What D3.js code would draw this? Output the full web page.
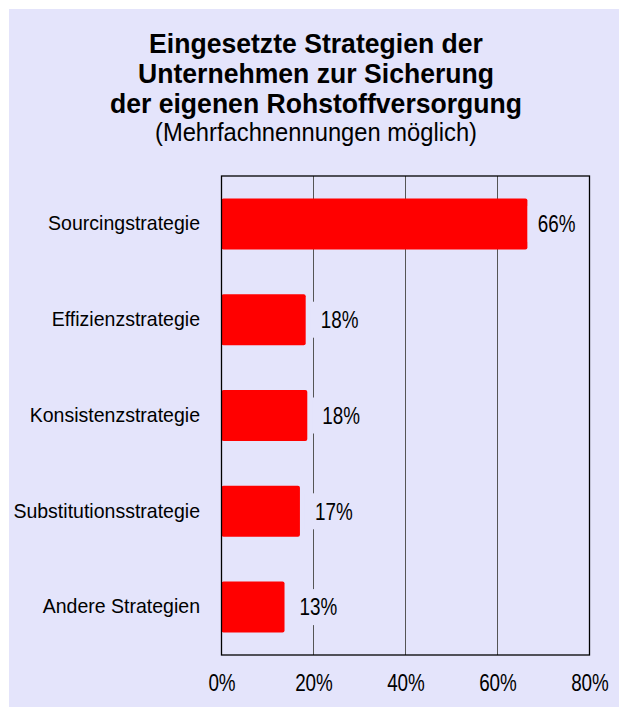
<!DOCTYPE html>
<html>
<head>
<meta charset="utf-8">
<script src="https://cdn.jsdelivr.net/npm/d3@7"></script>
<style>
  body { margin: 0; background: #fff; }
  text { font-family: "Liberation Sans", Arial, sans-serif; fill: #000; }
</style>
</head>
<body>
<svg id="chart"></svg>
<script>
"use strict";
const categories = ["Sourcingstrategie", "Effizienzstrategie", "Konsistenzstrategie",
    "Substitutionsstrategie", "Andere Strategien"];
const values = [66.5, 18.3, 18.65, 17.05, 13.7];
const valueLabels = ["66%", "18%", "18%", "17%", "13%"];
const ticks = [0, 20, 40, 60, 80];
const titleLines = ["Eingesetzte Strategien der", "Unternehmen zur Sicherung",
    "der eigenen Rohstoffversorgung"];
const subtitle = "(Mehrfachnennungen möglich)";

const W = 619, H = 707;
const margin = {top: 176, left: 221.5},
    width = 368, height = 479;
const bg = "#e4e4fb";

const svg = d3.select("#chart").attr("width", W).attr("height", H);
svg.append("rect").attr("x", 9).attr("y", 9)
    .attr("width", W - 9).attr("height", H - 9).attr("fill", bg);

// Title
titleLines.forEach((t, i) => {
    svg.append("text")
        .attr("text-anchor", "middle")
        .attr("transform", `translate(316,${53 + i * 30}) scale(0.95,1)`)
        .style("font-size", "28px").style("font-weight", "bold")
        .text(t);
});
svg.append("text")
    .attr("text-anchor", "middle")
    .attr("transform", "translate(316,141) scale(0.95,1)")
    .style("font-size", "25px")
    .text(subtitle);

const g = svg.append("g")
    .attr("transform", `translate(${margin.left},${margin.top})`);

const x = d3.scaleLinear().domain([0, 80]).range([0, width]);
const y = d3.scaleBand().domain(categories).range([0, height])
    .paddingInner(0.468).paddingOuter(0.234);

// gridlines
g.append("g")
    .selectAll("line")
    .data(ticks.slice(1, -1))
  .enter().append("line")
    .attr("x1", d => x(d)).attr("x2", d => x(d))
    .attr("y1", 0).attr("y2", height)
    .attr("stroke", "#555").attr("stroke-width", 1);

// bars
g.selectAll(".bar")
    .data(values)
  .enter().append("rect")
    .attr("class", "bar")
    .attr("x", 0)
    .attr("y", (d, i) => y(categories[i]))
    .attr("width", d => x(d))
    .attr("height", y.bandwidth())
    .attr("rx", 2)
    .attr("fill", "#ff0000");

// value labels with background boxes
values.forEach((v, i) => {
    const cy = y(categories[i]) + y.bandwidth() / 2;
    const lbl = g.append("g");
    const box = lbl.append("rect").attr("fill", bg);
    const t = lbl.append("text")
        .style("font-size", "23px")
        .text(valueLabels[i]);
    const tw = t.node().getComputedTextLength() * 0.82;
    const tx = Math.min(x(v) + 15, width - tw - 14);
    t.attr("transform", `translate(${tx},${cy + 8.3}) scale(0.82,1)`);
    box.attr("x", tx - 10).attr("y", cy - 18)
        .attr("width", tw + 20).attr("height", 36);
});

// plot border
g.append("rect")
    .attr("width", width).attr("height", height)
    .attr("fill", "none").attr("stroke", "#000").attr("stroke-width", 1.3);

// x axis
const xAxis = g.append("g")
    .attr("transform", `translate(0,${height})`)
    .call(d3.axisBottom(x).tickValues(ticks).tickSize(0).tickPadding(20)
        .tickFormat(d => d + "%"));
xAxis.select(".domain").remove();
xAxis.selectAll("text")
    .attr("font-family", null).attr("font-size", null)
    .style("font-size", "23px")
    .attr("transform", "scale(0.82,1)");

// y axis labels
const yAxis = g.append("g")
    .call(d3.axisLeft(y).tickSize(0).tickPadding(0));
yAxis.select(".domain").remove();
yAxis.selectAll("text")
    .attr("font-family", null).attr("font-size", null)
    .style("font-size", "21px")
    .attr("x", 0).attr("dy", "0.3em")
    .attr("transform", "translate(-21.5,0) scale(0.93,1)");
</script>
</body>
</html>
